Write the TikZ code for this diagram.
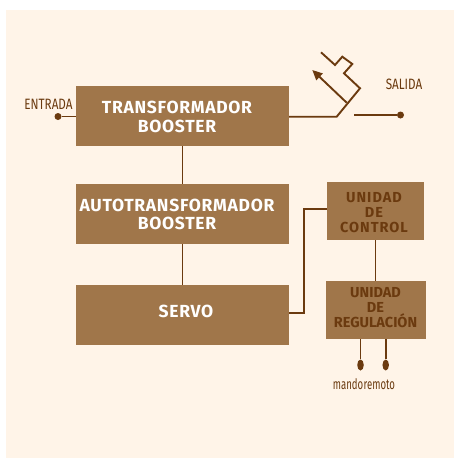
\documentclass[tikz,border=0pt]{standalone}
\usepackage{fontspec}
\setmainfont{Fira Sans}
\newfontfamily\wideb[LetterSpace=4]{Fira Sans Bold}
\newfontfamily\widec[LetterSpace=7]{Fira Sans Bold}
\newfontfamily\plainb{Fira Sans Bold}
\definecolor{bgc}{HTML}{FFF4E8}
\definecolor{boxc}{HTML}{A0764A}
\definecolor{linec}{HTML}{6B3A0F}
\usetikzlibrary{shapes.geometric,arrows.meta}
\tikzset{
  wire/.style={draw=linec,line width=1.9pt,line join=miter},
  blockn/.style={fill=boxc,inner sep=0pt},
  whitet/.style={inner sep=0pt,align=center,text=white,font=\wideb\fontsize{17.5}{18.5}\selectfont},
  darkt/.style={inner sep=0pt,align=center,text=linec,font=\widec\fontsize{14.5}{15}\selectfont},
  darkr/.style={inner sep=0pt,align=center,text=linec,font=\plainb\fontsize{14.5}{15}\selectfont},
  lab/.style={text=linec,inner sep=0pt,font=\fontsize{15}{17}\selectfont},
  dotn/.style={circle,fill=linec,inner sep=0pt,minimum size=7pt},
  ovaln/.style={ellipse,fill=linec,inner sep=0pt,minimum width=6.5pt,minimum height=11pt}
}
\begin{document}
\begin{tikzpicture}[x=1pt,y=-1pt]
\useasboundingbox (0,0) rectangle (454,458);
\fill[white] (0,0) rectangle (454,458);
\fill[bgc] (6,10) rectangle (454,458);
\node[blockn,minimum width=213pt,minimum height=60pt] (tb) at (182.5,116) {};
\node[blockn,minimum width=213pt,minimum height=60pt] (ab) at (182.5,214) {};
\node[blockn,minimum width=213pt,minimum height=60pt] (sv) at (182.5,315) {};
\node[blockn,minimum width=97pt,minimum height=58pt] (uc) at (375.5,211) {};
\node[blockn,minimum width=100pt,minimum height=58pt] (ur) at (376,310) {};
\node[whitet] (ttb) at (177,117) {TRANSFORMADOR\\BOOSTER};
\node[whitet] (tab) at (177,214.5) {AUTOTRANSFORMADOR\\BOOSTER};
\node[whitet] (tsv) at (186,311) {SERVO};
\node[darkt] (tuc) at (374,213) {UNIDAD\\DE\\CONTROL};
\node[darkr] (tur) at (375.5,308) {UNIDAD\\DE\\REGULACIÓN};
\node[dotn] (ein) at (58,116.5) {};
\node[lab,xscale=0.78] (lent) at (48.5,104) {ENTRADA};
\node[dotn] (sout) at (400.5,115) {};
\node[lab,xscale=0.78] (lsal) at (404,84) {SALIDA};
\node[ovaln] (o1) at (360.5,365) {};
\node[ovaln] (o2) at (385.7,365) {};
\node[lab,xscale=0.66,font=\fontsize{14.5}{16}\selectfont] (lm) at (364,384) {mando\kern0.05em remoto};
\coordinate (s0) at (336.7,116.7);
\coordinate (s1) at (360,88.3);
\coordinate (s2) at (344,73.3);
\coordinate (s3) at (352.3,64);
\coordinate (s4) at (342.3,56.7);
\coordinate (s5) at (335,65);
\coordinate (s6) at (321,52.3);
\coordinate (sm) at (346.7,102.7);
\coordinate (at) at (312.3,70);
\coordinate (sin) at (354.3,115);
\draw[wire] (ein) -- (tb.west |- ein);
\draw[wire] (tb.east |- s0) -- (s0) -- (s1) -- (s2) -- (s3) -- (s4) -- (s5) -- (s6);
\draw[wire,-{Triangle[length=10pt,width=9pt]}] (sm) -- (at);
\draw[wire] (sin) -- (sout);
\draw[wire] (tb) -- (ab);
\draw[wire] (ab) -- (sv);
\coordinate (k1) at (304,209.3);
\coordinate (k2) at (304,312.7);
\draw[wire] (uc.west |- k1) -- (k1) -- (k2) -- (sv.east |- k2);
\draw[wire] (uc.south) -- (ur.north -| uc.south);
\draw[wire] (ur.south -| o1) -- (o1);
\draw[wire] (ur.south -| o2) -- (o2);
\end{tikzpicture}
\end{document}
